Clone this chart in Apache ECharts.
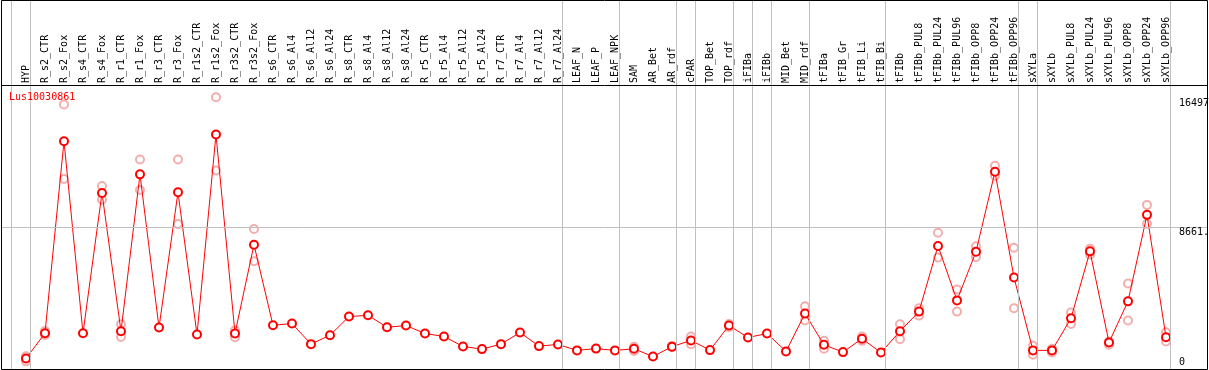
<!DOCTYPE html>
<html>
<head>
<meta charset="UTF-8">
<title>Lus10030861</title>
<script src="https://cdn.jsdelivr.net/npm/echarts@6/dist/echarts.min.js"></script>
<style>
html, body { margin: 0; padding: 0; background: #fff; }
#main { width: 1209px; height: 370px; }
</style>
</head>
<body>
<div id="main"></div>
<script type="text/javascript">
var geneName = 'Lus10030861';

var categories = ['HYP', 'R_s2_CTR', 'R_s2_Fox', 'R_s4_CTR', 'R_s4_Fox', 'R_r1_CTR', 'R_r1_Fox',
    'R_r3_CTR', 'R_r3_Fox', 'R_r1s2_CTR', 'R_r1s2_Fox', 'R_r3s2_CTR', 'R_r3s2_Fox',
    'R_s6_CTR', 'R_s6_Al4', 'R_s6_Al12', 'R_s6_Al24', 'R_s8_CTR', 'R_s8_Al4', 'R_s8_Al12', 'R_s8_Al24',
    'R_r5_CTR', 'R_r5_Al4', 'R_r5_Al12', 'R_r5_Al24', 'R_r7_CTR', 'R_r7_Al4', 'R_r7_Al12', 'R_r7_Al24',
    'LEAF_N', 'LEAF_P', 'LEAF_NPK', 'SAM', 'AR_Bet', 'AR_rdf', 'cPAR', 'TOP_Bet', 'TOP_rdf',
    'iFIBa', 'iFIBb', 'MID_Bet', 'MID_rdf', 'tFIBa', 'tFIB_Gr', 'tFIB_Li', 'tFIB_Bi', 'tFIBb',
    'tFIBb_PUL8', 'tFIBb_PUL24', 'tFIBb_PUL96', 'tFIBb_OPP8', 'tFIBb_OPP24', 'tFIBb_OPP96',
    'sXYLa', 'sXYLb', 'sXYLb_PUL8', 'sXYLb_PUL24', 'sXYLb_PUL96', 'sXYLb_OPP8', 'sXYLb_OPP24', 'sXYLb_OPP96'];

// mean expression per sample
var means = [692, 2225, 13834, 2225, 10706, 2346, 11831, 2568, 10748, 2147, 14243, 2207, 7578,
    2707, 2809, 1564, 2105, 3230, 3308, 2586, 2689, 2207, 2027, 1425, 1263, 1564, 2267, 1444, 1546,
    1185, 1293, 1185, 1281, 812, 1413, 1786, 1203, 2689, 1967, 2207, 1125, 3410, 1522, 1083, 1895, 1053,
    2346, 3531, 7500, 4210, 7157, 11987, 5594, 1185, 1185, 3128, 7175, 1666, 4150, 9383, 1985];

// replicates (null = not shown)
var repA = [824, 2364, 16059, null, 11127, 2767, 12733, null, 12733, null, 16497, 2388, 8523,
    null, null, null, null, null, null, null, null, null, null, null, null, null, null, null, null,
    null, null, null, 1400, null, 1450, 2027, null, 2785, null, null, null, 3849, 1762, null, 2027, null,
    2767, 3729, 8300, 4872, 7476, 12348, 7398, 1462, 1281, 3470, 7338, 1726, 5233, 9984, 2286];
var repB = [523, 2123, 11548, null, 10303, 2003, 10886, null, 8823, null, 12059, 1985, 6574,
    null, null, null, null, null, null, null, null, null, null, null, null, null, null, null, null,
    null, null, null, 1150, null, 1380, 1564, null, 2586, null, null, null, 2989, 1281, null, 1762, null,
    1865, 3290, 6797, 3531, 6839, 11747, 3729, 920, 1065, 2785, 6977, 1522, 2989, 8841, 1726];

// last sample of each group (a separator follows it)
var groupEnds = ['HYP', 'R_r7_Al24', 'LEAF_NPK', 'AR_rdf', 'cPAR', 'TOP_rdf', 'iFIBa', 'iFIBb',
    'MID_rdf', 'tFIB_Bi', 'tFIBb_OPP96', 'sXYLa', 'sXYLb_OPP96'];

var refValues = [0, 8661, 16497];
var refLabels = ['0', '8661.', '16497'];

var monoFont = '"DejaVu Sans Mono", monospace';

var myChart = echarts.init(document.getElementById('main'));

function toPairs(arr) {
    var out = [];
    for (var i = 0; i < arr.length; i++) {
        if (arr[i] != null) out.push([i, arr[i]]);
    }
    return out;
}

var sepLines = [{ xAxis: -1 + 0.2 }];
for (var g = 0; g < groupEnds.length; g++) {
    sepLines.push({ xAxis: categories.indexOf(groupEnds[g]) + 0.24 });
}
sepLines.push({ yAxis: refValues[1] });

var repStyle = {
    type: 'scatter',
    symbol: 'emptyCircle',
    symbolSize: 8,
    itemStyle: { color: '#f09a9a', borderWidth: 1.3 },
    silent: true,
    z: 2
};

var option = {
    animation: false,
    title: {
        text: geneName,
        left: 9,
        top: 92,
        padding: 0,
        textStyle: { color: '#ff0000', fontSize: 10, fontWeight: 'normal', fontFamily: monoFont }
    },
    grid: { left: 2, right: 2, top: 0, bottom: -2 },
    xAxis: {
        type: 'value',
        position: 'top',
        offset: -85,
        min: -1.263,
        max: 62.158,
        axisLine: { show: false },
        axisTick: { show: false },
        splitLine: { show: false },
        axisLabel: {
            customValues: categories.map(function (c, i) { return i; }),
            rotate: 90,
            margin: 2,
            color: '#000',
            fontSize: 10,
            fontFamily: monoFont,
            formatter: function (v) { return categories[Math.round(v)]; }
        }
    },
    yAxis: {
        type: 'value',
        position: 'right',
        min: 0,
        max: 22375,
        axisLine: { show: false },
        axisTick: { show: false },
        axisLabel: { show: false },
        splitLine: { show: false }
    },
    series: [
        Object.assign({}, repStyle, {
            name: 'repA',
            data: toPairs(repA),
            markLine: {
                silent: true,
                symbol: 'none',
                label: { show: false },
                lineStyle: { color: '#c0c0c0', type: 'solid', width: 1 },
                data: sepLines
            },
            z: 1
        }),
        Object.assign({}, repStyle, { name: 'repB', data: toPairs(repB) }),
        {
            name: 'mean',
            type: 'line',
            data: toPairs(means),
            symbol: 'emptyCircle',
            symbolSize: 8,
            lineStyle: { color: '#ff0000', width: 1 },
            itemStyle: { color: '#ff0000', borderWidth: 1.3 },
            z: 3
        }
    ],
    graphic: [
        {
            type: 'rect',
            shape: { x: 1.5, y: 0.5, width: 1206, height: 369 },
            style: { fill: null, stroke: '#000', lineWidth: 1 },
            silent: true,
            z: 10
        },
        {
            // header separator
            type: 'line',
            shape: { x1: 1.5, y1: 85.5, x2: 1207.5, y2: 85.5 },
            style: { stroke: '#000', lineWidth: 1 },
            silent: true,
            z: 10
        }
    ]
};

myChart.setOption(option);

// value labels on the right, kept inside the frame
var labelX = myChart.convertToPixel({ xAxisIndex: 0 }, categories.length - 1) + 13;
var extra = refValues.map(function (v, k) {
    var py = myChart.convertToPixel({ yAxisIndex: 0 }, v);
    return {
        type: 'text',
        x: labelX,
        y: Math.min(py + 1, 357),
        style: { text: refLabels[k], font: '10px ' + monoFont, fill: '#000', verticalAlign: 'top' },
        silent: true,
        z: 10
    };
});
myChart.setOption({ graphic: option.graphic.concat(extra) });
</script>
</body>
</html>
